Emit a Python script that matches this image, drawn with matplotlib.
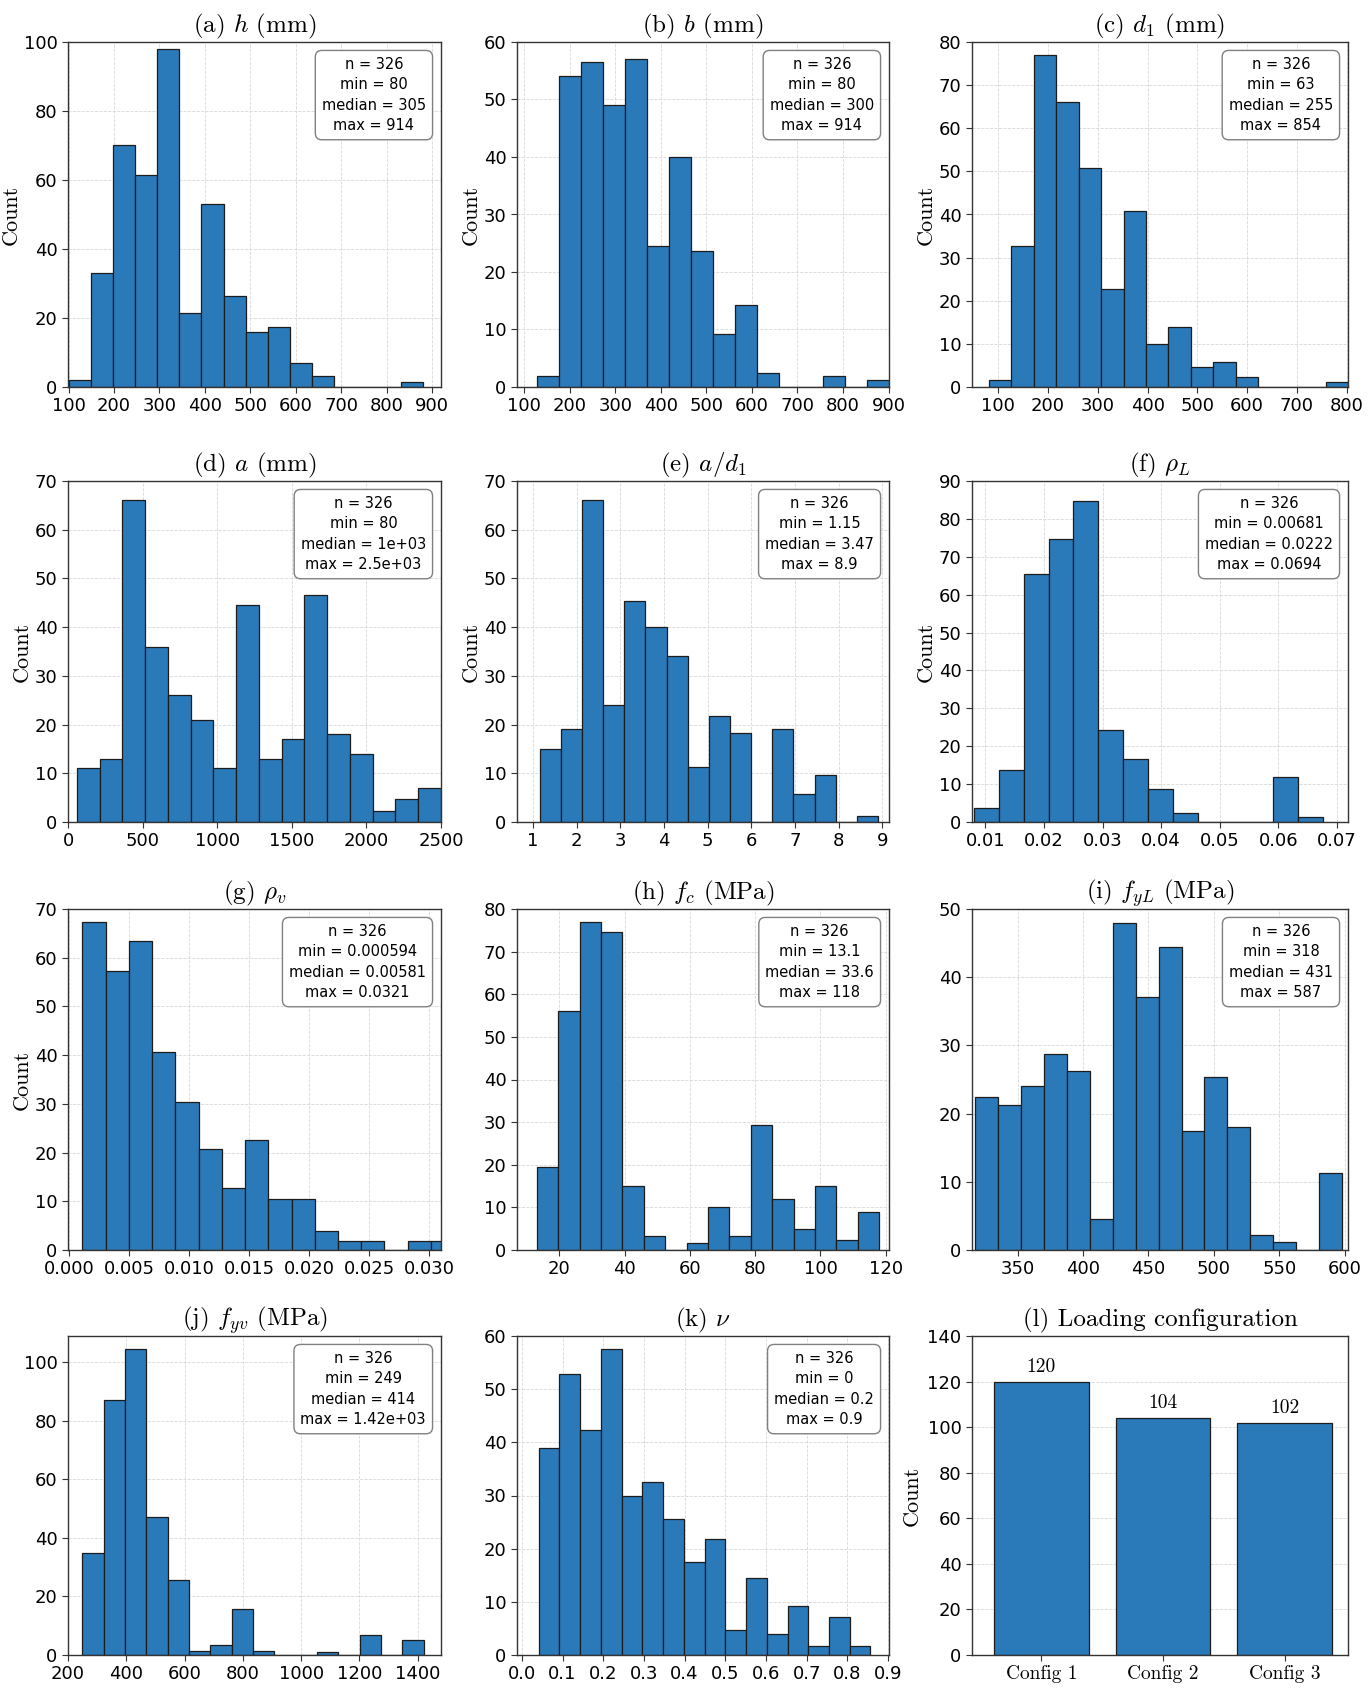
"""Distributions of the 326-specimen shear database (12 panels)."""

import matplotlib
matplotlib.use("Agg")
import matplotlib.pyplot as plt
import numpy as np

plt.rcParams["mathtext.fontset"] = "cm"

# ---- data: (bin range, bar heights) ----
h_range = (100, 880)
h_counts = [2, 33, 70, 61.5, 98, 21.5, 53, 26.5, 16, 17.5, 7, 3.2, 0, 0, 0, 1.5]
b_range = (129, 901)
b_counts = [2, 54, 56.5, 49, 57, 24.5, 40, 23.7, 9.3, 14.2, 2.5, 0, 0, 2, 0, 1.2]
d1_range = (81, 803)
d1_counts = [1.7, 32.7, 77, 66, 50.7, 22.7, 40.7, 10, 14, 4.7, 5.8, 2.4, 0, 0, 0, 1.2]
a_range = (60, 2500)
a_counts = [11, 13, 66, 36, 26, 21, 11, 44.5, 13, 17, 46.5, 18, 14, 2.3, 4.7, 7]
ad_range = (1.15, 8.9)
ad_counts = [15, 19, 66.2, 24, 45.3, 40, 34, 11.3, 21.8, 18.2, 0, 19, 5.8, 9.6, 0, 1.3]
rhoL_range = (0.008, 0.0676)
rhoL_counts = [3.8, 13.6, 65.5, 74.8, 84.8, 24.2, 16.5, 8.7, 2.5, 0, 0, 0, 12, 1.2]
rhov_range = (0.0011, 0.0321)
rhov_counts = [67.3, 57.2, 63.5, 40.6, 30.4, 20.8, 12.8, 22.6, 10.5, 10.5, 3.8, 1.9, 1.9, 0, 1.9, 1.9]
fc_range = (13.1, 118)
fc_counts = [19.4, 56, 77, 74.5, 15.1, 3.4, 0, 1.7, 10, 3.4, 29.4, 12, 5, 15.1, 2.4, 8.8]
fyL_range = (317.5, 598)
fyL_counts = [22.4, 21.3, 24, 28.8, 26.3, 4.5, 48, 37.1, 44.5, 17.4, 25.4, 18, 2.2, 1.1, 0, 11.3]
fyv_range = (249, 1420)
fyv_counts = [35, 87, 104.5, 47, 25.6, 1.2, 3.4, 15.7, 1.4, 0, 0, 1.1, 0, 6.8, 0, 5]
nu_range = (0.041, 0.857)
nu_counts = [39, 52.9, 42.3, 57.5, 30, 32.6, 25.6, 17.4, 21.9, 4.7, 14.5, 4, 9.2, 1.6, 7.1, 1.6]

# summary statistics printed in each box: (min, median, max)
n_specimens = 326
h_stats = (80, 305, 914)
b_stats = (80, 300, 914)
d1_stats = (63, 255, 854)
a_stats = (80, 1000, 2500)
ad_stats = (1.15, 3.47, 8.9)
rhoL_stats = (0.00681, 0.0222, 0.0694)
rhov_stats = (0.000594, 0.00581, 0.0321)
fc_stats = (13.1, 33.6, 118)
fyL_stats = (318, 431, 587)
fyv_stats = (249, 414, 1420)
nu_stats = (0, 0.2, 0.9)

configs = ["Config 1", "Config 2", "Config 3"]
config_counts = [120, 104, 102]

BLUE = "#2a79b9"
EDGE = "#1c1c1c"

panels = [
    # title, range, counts, stats, xlim, xticks, ylim, ystep, count label, tick format
    (r"(a) $h$ (mm)", h_range, h_counts, h_stats, (98.5, 920), np.arange(100, 901, 100), 100, 20, True, None),
    (r"(b) $b$ (mm)", b_range, b_counts, b_stats, (84, 901), np.arange(100, 901, 100), 60, 10, True, None),
    (r"(c) $d_1$ (mm)", d1_range, d1_counts, d1_stats, (47, 803), np.arange(100, 801, 100), 80, 10, True, None),
    (r"(d) $a$ (mm)", a_range, a_counts, a_stats, (0, 2500), np.arange(0, 2501, 500), 70, 10, True, None),
    (r"(e) $a/d_1$", ad_range, ad_counts, ad_stats, (0.63, 9.15), np.arange(1, 10, 1), 70, 10, True, None),
    (r"(f) $\rho_L$", rhoL_range, rhoL_counts, rhoL_stats, (0.0077, 0.0719), np.arange(0.01, 0.071, 0.01), 90, 10, True, "{:.2f}"),
    (r"(g) $\rho_v$", rhov_range, rhov_counts, rhov_stats, (-0.0001, 0.031), np.arange(0, 0.0301, 0.005), 70, 10, True, "{:.3f}"),
    (r"(h) $f_c$ (MPa)", fc_range, fc_counts, fc_stats, (7, 121), np.arange(20, 121, 20), 80, 10, False, None),
    (r"(i) $f_{yL}$ (MPa)", fyL_range, fyL_counts, fyL_stats, (315, 602.6), np.arange(350, 601, 50), 50, 10, False, None),
    (r"(j) $f_{yv}$ (MPa)", fyv_range, fyv_counts, fyv_stats, (200, 1480), np.arange(200, 1401, 200), 109, 20, False, None),
    (r"(k) $\nu$", nu_range, nu_counts, nu_stats, (-0.012, 0.9025), np.arange(0, 0.91, 0.1), 60, 10, False, "{:.1f}"),
]

# axes boxes in pixels of the 1370 x 1691 canvas
W, H = 1370, 1691
col_x = [(68, 441), (517, 889), (972, 1348)]
row_y = [(42, 387), (481, 822), (909, 1250), (1336, 1655)]

fig = plt.figure(figsize=(W / 100, H / 100), dpi=100)


def make_axes(i):
    (x0, x1), (y0, y1) = col_x[i % 3], row_y[i // 3]
    ax = fig.add_axes([x0 / W, 1 - y1 / H, (x1 - x0) / W, (y1 - y0) / H])
    for s in ax.spines.values():
        s.set_color("#333333")
        s.set_linewidth(1.0)
    ax.tick_params(labelsize=13, length=4, color="#333333", direction="out")
    ax.set_axisbelow(True)
    return ax


for i, (title, rng, counts, stats, xlim, xticks, ytop, ystep, ylab, fmt) in enumerate(panels):
    ax = make_axes(i)
    edges = np.linspace(rng[0], rng[1], len(counts) + 1)
    ax.hist(edges[:-1], bins=edges, weights=counts, color=BLUE,
            edgecolor=EDGE, linewidth=0.9)
    ax.set_xlim(*xlim)
    ax.set_ylim(0, ytop)
    ax.set_xticks(xticks)
    if fmt:
        ax.set_xticklabels([fmt.format(v) for v in xticks])
    ax.set_yticks(np.arange(0, ytop + 0.01, ystep))
    ax.grid(True, linestyle="--", linewidth=0.6, color="#d8d8d8")
    ax.set_title(title, fontsize=18, family="cmr10", pad=7)
    if ylab:
        ax.set_ylabel("Count", fontsize=16, family="cmr10", labelpad=2)
    lo, med, hi = stats
    txt = (f"n = {n_specimens}\nmin = {lo:.3g}\n"
           f"median = {med:.3g}\nmax = {hi:.3g}")
    ax.annotate(txt, xy=(1, 1), xycoords="axes fraction",
                xytext=(-15, -15), textcoords="offset pixels",
                ha="right", va="top", multialignment="center",
                fontsize=10.5, linespacing=1.45,
                bbox=dict(boxstyle="round,pad=0.45", facecolor="white",
                          edgecolor="#808080", linewidth=1.0))

# (l) loading configuration
ax = make_axes(11)
pos = np.arange(len(configs))
bars = ax.bar(pos, config_counts, width=0.78, color=BLUE, edgecolor=EDGE, linewidth=0.9)
ax.bar_label(bars, labels=[str(c) for c in config_counts], padding=4,
             fontsize=14, family="cmr10")
ax.set_xlim(-0.57, 2.52)
ax.set_ylim(0, 140)
ax.set_yticks(np.arange(0, 141, 20))
ax.set_xticks(pos)
ax.set_xticklabels(configs, fontsize=14, family="cmr10")
ax.grid(True, axis="y", linestyle="--", linewidth=0.6, color="#d8d8d8")
ax.set_title("(l) Loading configuration", fontsize=18, family="cmr10", pad=7)
ax.set_ylabel("Count", fontsize=16, family="cmr10", labelpad=4)

plt.savefig("out.png", dpi=100)
print("Saved to out.png")
